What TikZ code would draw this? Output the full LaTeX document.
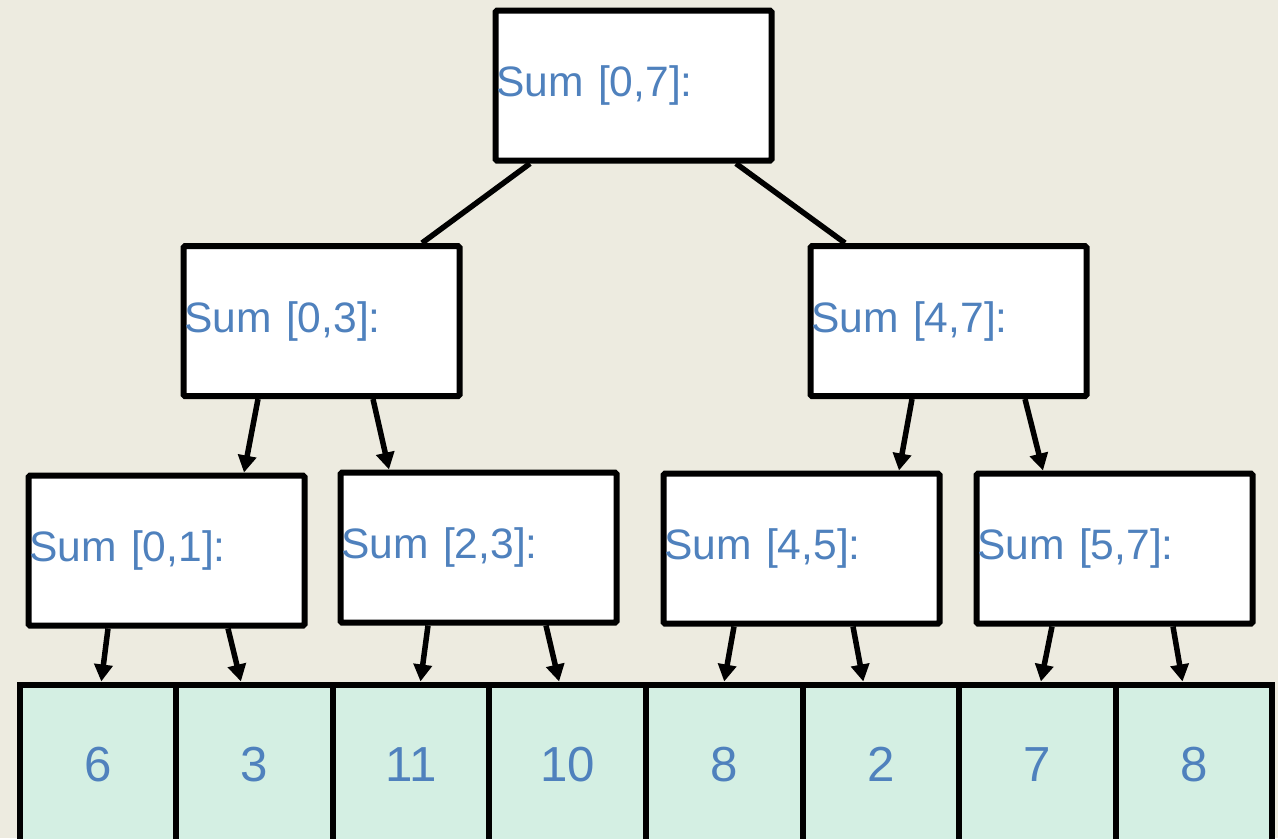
\documentclass[tikz,border=0pt]{standalone}
\usepackage{fontspec}
\setmainfont{Liberation Sans}
\usetikzlibrary{arrows.meta}

\newlength{\du}
\setlength{\du}{0.01cm}

\definecolor{pagecolor}{rgb}{0.929, 0.922, 0.878}
\definecolor{cellcolor}{rgb}{0.831, 0.937, 0.890}
\definecolor{labelcolor}{rgb}{0.310, 0.506, 0.741}

\tikzset{
  sumbox/.style={draw=black, fill=white, line width=6\du, rounded corners=1.5\du,
    minimum height=150\du, text width=274\du, inner xsep=1\du, align=left,
    text=labelcolor, font=\fontsize{12.1}{15}\selectfont},
  cellbox/.style={draw=black, fill=cellcolor, line width=6\du,
    minimum width=156.6\du, minimum height=160\du, inner sep=0pt,
    text=labelcolor, font=\fontsize{14}{16}\selectfont},
  link/.style={line width=5.5\du},
  arrowlink/.style={line width=5.5\du, -{Triangle[length=0.17cm,width=0.18cm]}}
}

\begin{document}
\begin{tikzpicture}[x=\du, y=-\du]
\fill[pagecolor] (0,0) rectangle (1278,838);
\useasboundingbox (0,0) rectangle (1278,838);
\clip (0,0) rectangle (1278,838);

% array of values along the bottom
\foreach \val [count=\i from 0] in {6,3,11,10,8,2,7,8}
  \node[cellbox] (c\i) at ({97.8+156.6*\i},764.5) {\val};

% tree of partial sums
\node[sumbox] (s07) at (633.5,85.5) {Sum [0,7]:};
\node[sumbox] (s03) at (321.5,321) {Sum [0,3]:};
\node[sumbox] (s47) at (948.5,321) {Sum [4,7]:};
\node[sumbox] (s01) at (166.5,550.5) {Sum [0,1]:};
\node[sumbox] (s23) at (478.5,547.5) {Sum [2,3]:};
\node[sumbox] (s45) at (801.5,548.5) {Sum [4,5]:};
\node[sumbox] (s57) at (1114.5,548.5) {Sum [5,7]:};

% root edges
\draw[link] ([xshift=-103.5\du]s07.south) -- ([xshift=100.5\du]s03.north);
\draw[link] ([xshift=102.5\du]s07.south) -- ([xshift=-103.5\du]s47.north);

% second level
\draw[arrowlink] ([xshift=-63.5\du]s03.south) -- ([xshift=77.5\du]s01.north);
\draw[arrowlink] ([xshift=51.5\du]s03.south) -- ([xshift=-89.5\du]s23.north);
\draw[arrowlink] ([xshift=-36.5\du]s47.south) -- ([xshift=97.5\du]s45.north);
\draw[arrowlink] ([xshift=76.5\du]s47.south) -- ([xshift=-71.5\du]s57.north);

% leaves
\draw[arrowlink] ([xshift=-58.5\du]s01.south) -- ([xshift=3.5\du]c0.north);
\draw[arrowlink] ([xshift=61.5\du]s01.south) -- ([xshift=-13.5\du]c1.north);
\draw[arrowlink] ([xshift=-50.5\du]s23.south) -- ([xshift=9.5\du]c2.north);
\draw[arrowlink] ([xshift=67.5\du]s23.south) -- ([xshift=-8.5\du]c3.north);
\draw[arrowlink] ([xshift=-67.5\du]s45.south) -- (c4.north);
\draw[arrowlink] ([xshift=51.5\du]s45.south) -- ([xshift=-17.5\du]c5.north);
\draw[arrowlink] ([xshift=-62.5\du]s57.south) -- ([xshift=3.5\du]c6.north);
\draw[arrowlink] ([xshift=58.5\du]s57.south) -- ([xshift=-11.5\du]c7.north);
\end{tikzpicture}
\end{document}
